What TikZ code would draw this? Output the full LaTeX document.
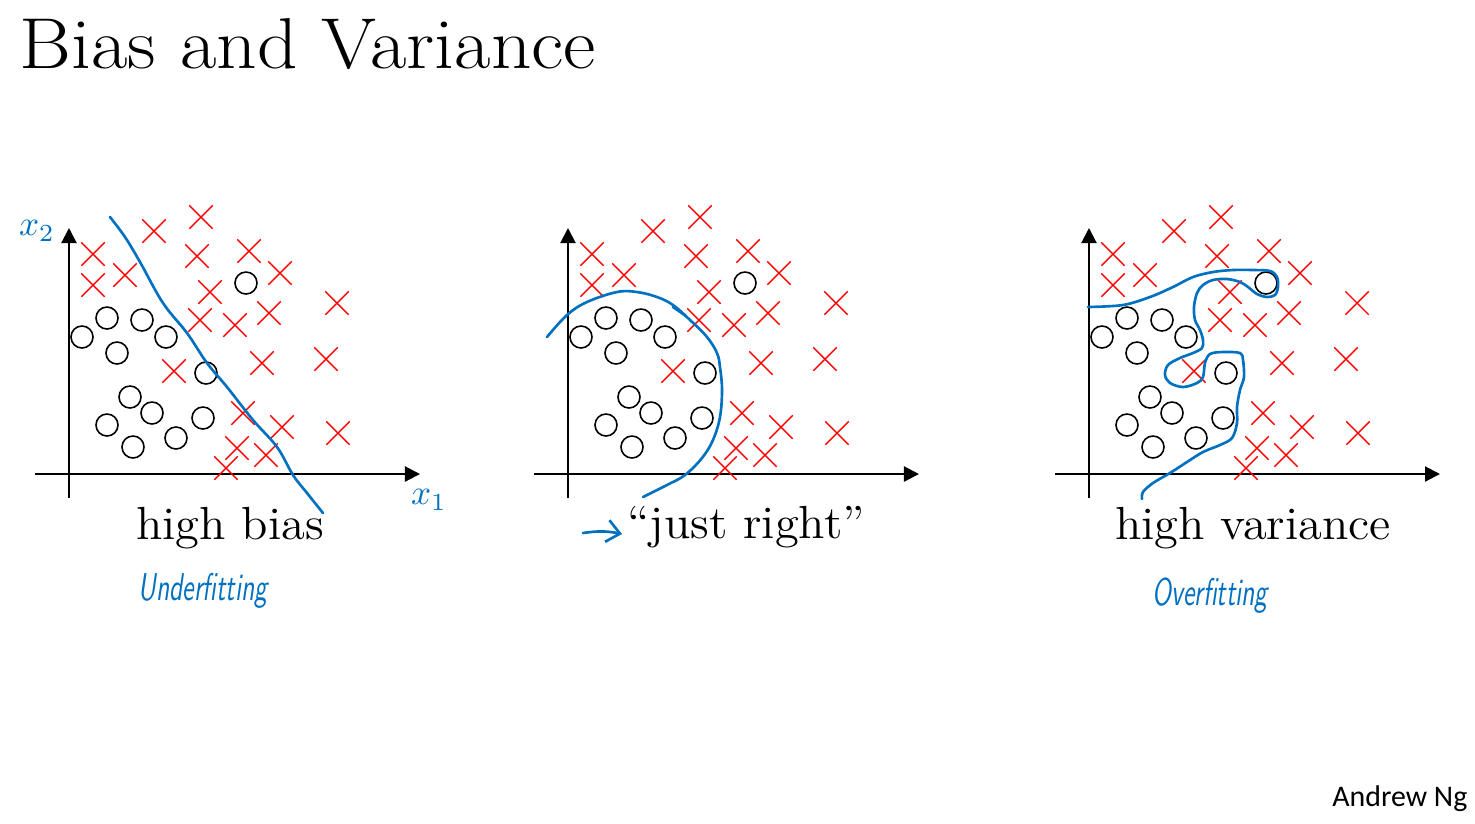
\documentclass[tikz,border=0pt]{standalone}
\usepackage{fontspec}
\newfontfamily\ngfont{Carlito}
\usetikzlibrary{arrows.meta}
\usetikzlibrary{shapes.misc}
\definecolor{penblue}{RGB}{0,112,192}

\tikzset{
  pt x/.style={draw=red, cross out, line width=0.4pt, minimum size=0.22cm, inner sep=0pt},
  pt o/.style={draw=black, circle, line width=0.45pt, minimum size=0.22cm, inner sep=0pt},
  axisline/.style={line width=0.6pt, -{Triangle[length=1.5mm, width=1.5mm]}},
  fit line/.style={draw=penblue, line width=0.75pt, line cap=round, line join=round},
  pen/.style={text=penblue, font=\sffamily\itshape\fontsize{11}{13}\selectfont},
  caption/.style={anchor=base, xscale=1.045, font=\fontsize{13.2}{16}\selectfont}
}

\begin{document}
\begin{tikzpicture}[x=0.01cm, y=-0.01cm]
            \useasboundingbox (0,0) rectangle (1475,823);
            \node[anchor=base west, inner sep=0pt, xscale=1.1, font=\fontsize{20.5}{24}\selectfont] (title) at (19,68) {Bias and Variance};

            % three panels, same data
            \foreach \dx/\p in {0/a, 499/b, 1020/c}{
              \coordinate (\p-ybot) at ({69+\dx},498);
              \coordinate (\p-ytop) at ({69+\dx},228);
              \coordinate (\p-xleft) at ({35+\dx},474);
              \coordinate (\p-xright) at ({420+\dx},474);
              \draw[axisline] (\p-ybot) -- (\p-ytop);
              \draw[axisline] (\p-xleft) -- (\p-xright);
              \foreach \x/\y [count=\i] in {201/217, 154/231, 93/254, 197/256, 249/251, 280/273,
                  125/275, 93/285, 210/292, 337/303, 269/313, 200/320, 235/325, 262/363,
                  326/359, 174/371, 243/413, 282/427, 338/433, 237/448, 266/455, 226/468}
                \node[pt x] (\p-cross\i) at ({\x+\dx},\y) {};
              \foreach \x/\y [count=\i] in {246/283, 107/318, 142/320, 82/337, 166/337, 117/353,
                  206/373, 130/397, 152/413, 203/418, 107/425, 176/438, 133/447}
                \node[pt o] (\p-ring\i) at ({\x+\dx},\y) {};
            }

            % decision boundaries
            \draw[fit line] plot[smooth, tension=0.6] coordinates {(110,217) (125,237) (140,262)
              (163,303) (187,333) (207,363) (227,387) (253,420) (277,447) (293,475) (307,493) (323,513)};
            \draw[fit line] plot[smooth, tension=0.6] coordinates {(547,337) (567,315) (587,302)
              (617,292) (637,292) (657,297) (673,305) (690,320) (707,337) (717,353) (720,367)
              (722,390) (720,417) (713,440) (702,458) (685,475) (667,485) (643,497)};
            \draw[fit line] (673,307) -- (686,316);
            \draw[fit line] plot[smooth, tension=0.55] coordinates {(1088,307) (1123,305) (1150,297)
              (1173,287) (1193,277) (1213,272) (1233,270) (1253,270) (1270,271) (1277,277)
              (1278,287) (1275,295) (1267,297) (1257,294) (1248,287) (1240,282) (1227,279)
              (1213,280) (1203,285) (1197,293) (1194,307) (1195,320) (1200,330) (1203,340)
              (1202,348) (1193,353) (1180,358) (1168,365) (1165,375) (1170,383) (1183,387)
              (1197,383) (1203,377) (1205,363) (1210,354) (1223,352) (1240,353) (1243,360)
              (1244,377) (1240,390) (1237,407) (1237,423) (1232,438) (1220,445) (1203,452)
              (1187,462) (1170,473) (1153,483) (1143,492) (1142,499)};

            % axis names
            \node[text=penblue] (x2) at (37,231) {$x_2$};
            \node[text=penblue] (x1) at (429,500) {$x_1$};

            % captions
            \node[caption] (bias) at (230,539) {high bias};
            \node[caption] (right) at (746,538) {“just right”};
            \node[caption] (var) at (1253,539) {high variance};
            \coordinate (arr-start) at (583,533);
            \coordinate (arr-end) at (622,534);
            \draw[fit line, -{Straight Barb[length=1.3mm, width=2.2mm]}] (arr-start) to[bend left=10] (arr-end);

            \node[pen, xscale=0.68] (under) at (203,591) {Underfitting};
            \node[pen, xscale=0.68] (over) at (1210,596) {Overfitting};

            \node[anchor=base east, inner sep=0pt, font=\ngfont\fontsize{8.5}{10}\selectfont] (ng) at (1468,806) {Andrew Ng};
        \end{tikzpicture}
\end{document}
